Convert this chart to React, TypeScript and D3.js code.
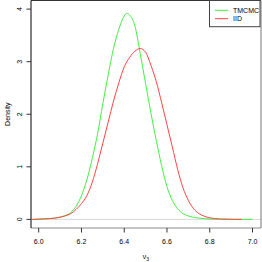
import React from "react";
import * as d3 from "d3";

const xTicks = [6.0, 6.2, 6.4, 6.6, 6.8, 7.0];
const yTicks = [0, 1, 2, 3, 4];

const tmcmcX = [5.97, 6.0, 6.05, 6.1, 6.125, 6.15, 6.175, 6.2, 6.225, 6.25, 6.275, 6.3, 6.325, 6.35, 6.375, 6.4, 6.412, 6.425, 6.45, 6.475, 6.5, 6.525, 6.55, 6.575, 6.6, 6.625, 6.65, 6.675, 6.7, 6.75, 6.8, 6.85, 6.9, 7.0];
const tmcmcY = [0.0, 0.004, 0.015, 0.045, 0.075, 0.13, 0.25, 0.45, 0.75, 1.15, 1.62, 2.2, 2.75, 3.25, 3.62, 3.87, 3.92, 3.89, 3.68, 3.15, 2.58, 2.02, 1.5, 1.02, 0.62, 0.36, 0.2, 0.11, 0.065, 0.025, 0.008, 0.003, 0.001, 0.0];

const iidX = [5.97, 6.0, 6.05, 6.1, 6.125, 6.15, 6.175, 6.2, 6.225, 6.25, 6.275, 6.3, 6.325, 6.35, 6.375, 6.4, 6.425, 6.45, 6.475, 6.5, 6.525, 6.55, 6.575, 6.6, 6.625, 6.65, 6.675, 6.7, 6.725, 6.75, 6.775, 6.8, 6.85, 6.9, 6.95];
const iidY = [0.0, 0.004, 0.015, 0.04, 0.068, 0.11, 0.19, 0.3, 0.45, 0.7, 1.05, 1.45, 1.85, 2.25, 2.6, 2.9, 3.08, 3.2, 3.25, 3.18, 2.93, 2.62, 2.22, 1.8, 1.38, 0.95, 0.6, 0.36, 0.2, 0.11, 0.06, 0.03, 0.008, 0.002, 0.0];

const seriesNames = ["TMCMC", "IID"];
const seriesColors = ["#44f044", "#ff4444"];

export default function App() {
  const x = d3.scaleLinear().domain([6, 7]).range([38.7, 252.5]);
  const y = d3.scaleLinear().domain([0, 4]).range([219.4, 9.1]);
  const left = 31, right = 261, top = 0.5, bottom = 228;
  const font = "'Liberation Sans', Arial, sans-serif";
  const line = d3
    .line<number>()
    .curve(d3.curveMonotoneX);
  const mk = (xs: number[], ys: number[]) =>
    line.x((_, i) => x(xs[i])).y((_, i) => y(ys[i]))(xs);
  const paths = [mk(tmcmcX, tmcmcY), mk(iidX, iidY)];

  return (
    <svg
      width={262}
      height={262}
      style={{ position: "fixed", left: 0, top: 0, background: "#fff" }}
      fontFamily={font}
    >
      <rect x={0} y={0} width={262} height={262} fill="#fff" />
      <line x1={left} x2={right} y1={y(0)} y2={y(0)} stroke="#d8d8d8" strokeWidth={1} />
      <defs>
        <clipPath id="clip">
          <rect x={left} y={top} width={right - left} height={bottom - top} />
        </clipPath>
      </defs>
      <g clipPath="url(#clip)">
        {paths.map((d, i) => (
          <path key={i} d={d || ""} fill="none" stroke={seriesColors[i]} strokeWidth={1} />
        ))}
      </g>
      <line x1={left} x2={right} y1={top} y2={top} stroke="#333" strokeWidth={1} />
      <line x1={right} x2={right} y1={top} y2={bottom} stroke="#777" strokeWidth={1} />
      <line x1={left} x2={right} y1={bottom} y2={bottom} stroke="#888" strokeWidth={1} />
      <line x1={left} x2={left} y1={top} y2={bottom} stroke="#000" strokeWidth={1} />
      {xTicks.map((t) => (
        <g key={t}>
          <line x1={x(t)} x2={x(t)} y1={bottom} y2={bottom + 4.5} stroke="#333" />
          <text x={x(t)} y={244.3} fontSize={7} textAnchor="middle" fill="#000">
            {t.toFixed(1)}
          </text>
        </g>
      ))}
      {yTicks.map((t) => (
        <g key={t}>
          <line x1={left} x2={left - 4.5} y1={y(t)} y2={y(t)} stroke="#333" />
          <text
            transform={`translate(21.5,${y(t)}) rotate(-90)`}
            fontSize={7}
            textAnchor="middle"
            fill="#000"
          >
            {t}
          </text>
        </g>
      ))}
      <text
        transform={`translate(9.5,${(top + bottom) / 2}) rotate(-90)`}
        fontSize={7}
        textAnchor="middle"
        fill="#000"
      >
        Density
      </text>
      <text x={(left + right) / 2} y={259} fontSize={7} textAnchor="middle" fill="#000">
        ν<tspan fontSize={5} dy={1.5}>3</tspan>
      </text>
      <rect x={209.5} y={0.5} width={50.5} height={26.2} fill="#fff" stroke="#444" strokeWidth={1} />
      {seriesNames.map((n, i) => (
        <g key={n}>
          <line x1={215} x2={228} y1={10.3 + i * 8.4} y2={10.3 + i * 8.4} stroke={seriesColors[i]} strokeWidth={1} />
          <text x={233} y={12.8 + i * 8.4} fontSize={7} fill="#000">
            {n}
          </text>
        </g>
      ))}
    </svg>
  );
}
